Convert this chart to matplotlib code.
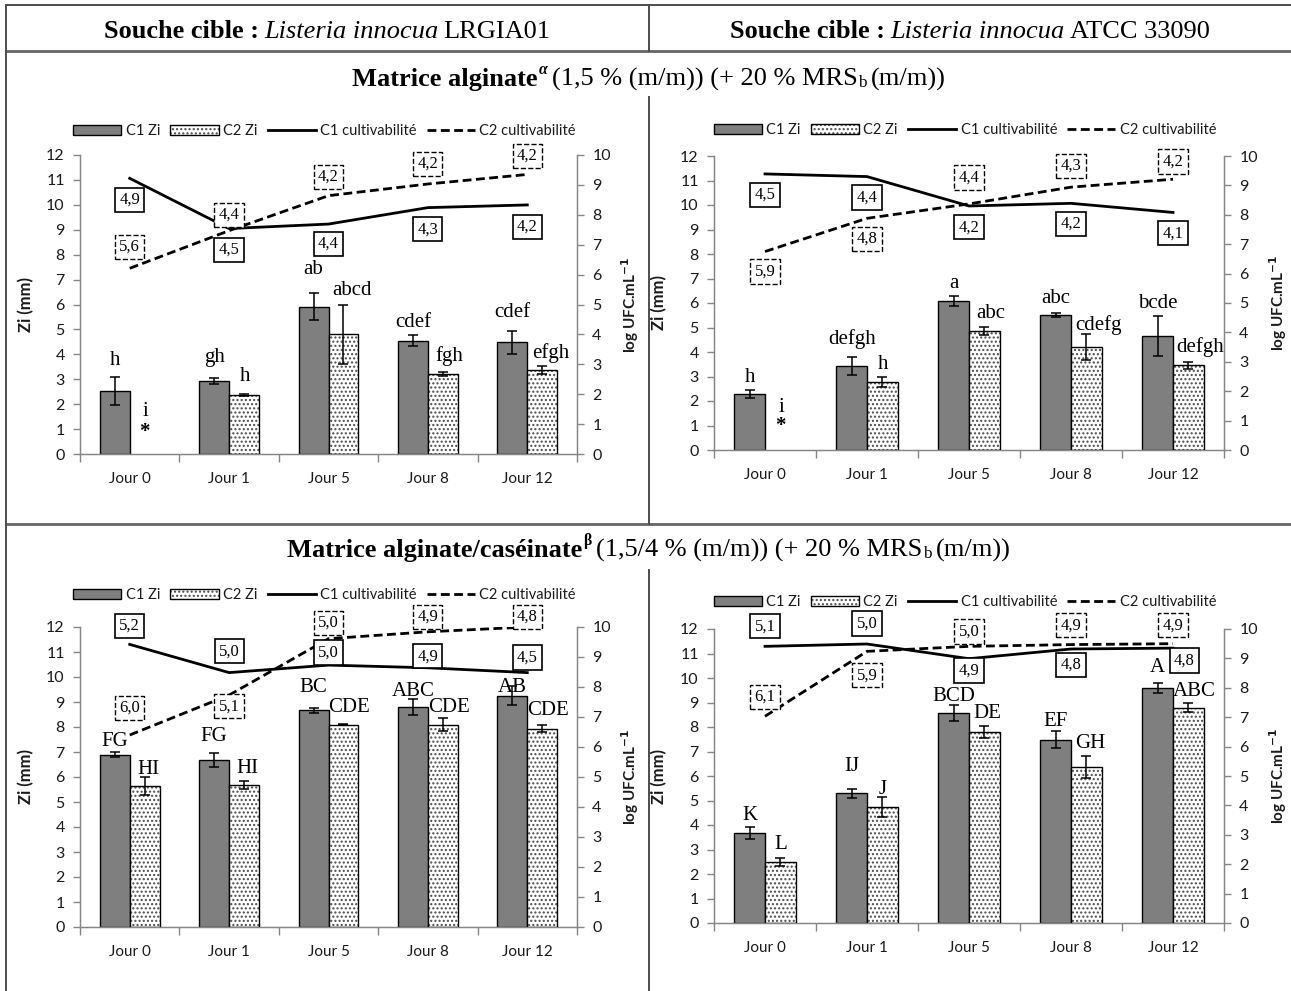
import numpy as np
import matplotlib
matplotlib.use("Agg")
import matplotlib.pyplot as plt
from matplotlib.lines import Line2D
from matplotlib.patches import Patch

W, H = 1291, 991

# ---------------- data ----------------
days = ['Jour 0', 'Jour 1', 'Jour 5', 'Jour 8', 'Jour 12']

# Panel A: alginate, LRGIA01
a_c1_zi = [2.53, 2.94, 5.91, 4.54, 4.48]
a_c1_err = [0.55, 0.13, 0.55, 0.22, 0.47]
a_c2_zi = [np.nan, 2.37, 4.80, 3.21, 3.37]
a_c2_err = [0, 0.05, 1.17, 0.07, 0.17]
a_c1_cult = [9.22, 7.54, 7.69, 8.24, 8.33]
a_c2_cult = [6.21, 7.47, 8.64, 9.03, 9.35]
a_c1_box = ['4,9', '4,5', '4,4', '4,3', '4,2']
a_c2_box = ['5,6', '4,4', '4,2', '4,2', '4,2']
a_c1_let = ['h', 'gh', 'ab', 'cdef', 'cdef']
a_c2_let = ['i', 'h', 'abcd', 'fgh', 'efgh']

# Panel B: alginate, ATCC 33090
b_c1_zi = [2.28, 3.42, 6.08, 5.50, 4.64]
b_c1_err = [0.17, 0.36, 0.19, 0.09, 0.81]
b_c2_zi = [np.nan, 2.77, 4.87, 4.21, 3.46]
b_c2_err = [0, 0.20, 0.17, 0.52, 0.14]
b_c1_cult = [9.39, 9.30, 8.30, 8.39, 8.08]
b_c2_cult = [6.75, 7.88, 8.37, 8.94, 9.21]
b_c1_box = ['4,5', '4,4', '4,2', '4,2', '4,1']
b_c2_box = ['5,9', '4,8', '4,4', '4,3', '4,2']
b_c1_let = ['h', 'defgh', 'a', 'abc', 'bcde']
b_c2_let = ['i', 'h', 'abc', 'cdefg', 'defgh']

# Panel C: alginate/caseinate, LRGIA01
c_c1_zi = [6.90, 6.68, 8.67, 8.79, 9.26]
c_c1_err = [0.11, 0.27, 0.11, 0.32, 0.37]
c_c2_zi = [5.64, 5.69, 8.10, 8.10, 7.94]
c_c2_err = [0.35, 0.15, 0.03, 0.27, 0.13]
c_c1_cult = [9.42, 8.48, 8.73, 8.64, 8.48]
c_c2_cult = [6.40, 7.73, 9.61, 9.84, 10.0]
c_c1_box = ['5,2', '5,0', '5,0', '4,9', '4,5']
c_c2_box = ['6,0', '5,1', '5,0', '4,9', '4,8']
c_c1_let = ['FG', 'FG', 'BC', 'ABC', 'AB']
c_c2_let = ['HI', 'HI', 'CDE', 'CDE', 'CDE']

# Panel D: alginate/caseinate, ATCC 33090
d_c1_zi = [3.67, 5.29, 8.57, 7.48, 9.59]
d_c1_err = [0.23, 0.18, 0.32, 0.35, 0.20]
d_c2_zi = [2.49, 4.75, 7.81, 6.37, 8.79]
d_c2_err = [0.18, 0.41, 0.24, 0.46, 0.17]
d_c1_cult = [9.41, 9.49, 8.99, 9.32, 9.35]
d_c2_cult = [7.03, 9.24, 9.41, 9.47, 9.50]
d_c1_box = ['5,1', '5,0', '4,9', '4,8', '4,8']
d_c2_box = ['6,1', '5,9', '5,0', '4,9', '4,9']
d_c1_let = ['K', 'IJ', 'BCD', 'EF', 'A']
d_c2_let = ['L', 'J', 'DE', 'GH', 'ABC']

# ---------------- annotation layout (positions, in Zi axis units) ----------------
layout = {
    'a': dict(ax=(80, 155, 577, 454), leg_y=131,
              c1_box_y=[10.2, 8.19, 8.43, 9.02, 9.12], c1_box_dx=[0, 0, 0, 0, 0],
              c2_box_y=[8.32, 9.59, 11.13, 11.64, 11.97],
              c1_let_y=[3.77, 3.87, 7.42, 5.28, 5.66],
              c2_let_y=[1.70, 3.10, 6.58, 3.95, 4.04], star_y=0.9),
    'b': dict(ax=(714, 156, 1224, 450), leg_y=130,
              c1_box_y=[10.41, 10.30, 9.09, 9.23, 8.85], c1_box_dx=[0, 0, 0, 0, 0],
              c2_box_y=[7.29, 8.61, 11.12, 11.59, 11.77],
              c1_let_y=[2.95, 4.53, 6.79, 6.20, 6.0],
              c2_let_y=[1.75, 3.49, 5.57, 5.12, 4.21], star_y=0.98),
    'c': dict(ax=(80, 627, 577, 927), leg_y=595,
              c1_box_y=[12.04, 11.03, 10.98, 10.83, 10.78], c1_box_dx=[0, 0, 0, 0, 0],
              c2_box_y=[8.77, 8.83, 12.17, 12.40, 12.40],
              c1_let_y=[7.44, 7.61, 9.6, 9.44, 9.6],
              c2_let_y=[6.28, 6.35, 8.77, 8.77, 8.67], star_y=None),
    'd': dict(ax=(714, 629, 1224, 923), leg_y=602,
              c1_box_y=[12.11, 12.22, 10.3, 10.54, 10.72], c1_box_dx=[0, 0, 0, 0, 0.11],
              c2_box_y=[9.22, 10.11, 11.9, 12.15, 12.15],
              c1_let_y=[4.38, 6.39, 9.25, 8.23, 10.41],
              c2_let_y=[3.2, 5.44, 8.54, 7.31, 9.46], star_y=None),
}

panels = {
    'a': (a_c1_zi, a_c1_err, a_c2_zi, a_c2_err, a_c1_cult, a_c2_cult, a_c1_box, a_c2_box, a_c1_let, a_c2_let),
    'b': (b_c1_zi, b_c1_err, b_c2_zi, b_c2_err, b_c1_cult, b_c2_cult, b_c1_box, b_c2_box, b_c1_let, b_c2_let),
    'c': (c_c1_zi, c_c1_err, c_c2_zi, c_c2_err, c_c1_cult, c_c2_cult, c_c1_box, c_c2_box, c_c1_let, c_c2_let),
    'd': (d_c1_zi, d_c1_err, d_c2_zi, d_c2_err, d_c1_cult, d_c2_cult, d_c1_box, d_c2_box, d_c1_let, d_c2_let),
}

SANS = ['Lato', 'DejaVu Sans']
SERIF = ['Liberation Serif', 'DejaVu Serif']
AXCOL = '#868686'
TXTCOL = '#1a1a1a'
HATCH = '....'
HATCHCOL = '#4a4a4a'
plt.rcParams['hatch.linewidth'] = 1.0

fig = plt.figure(figsize=(W / 100, H / 100), dpi=100)


def fx(px):
    return px / W


def fy(py):
    return 1 - py / H


# ---------------- table frame ----------------
def hline(y, x0, x1, lw=1.4, col='#4d4d4d'):
    fig.add_artist(Line2D([fx(x0), fx(x1)], [fy(y), fy(y)], lw=lw, color=col))


def vline(x, y0, y1, lw=1.4, col='#4d4d4d'):
    fig.add_artist(Line2D([fx(x), fx(x)], [fy(y0), fy(y1)], lw=lw, color=col))


hline(5, 6, 1291)
hline(51, 6, 1291, lw=2.0, col='#666666')
hline(524, 6, 1291, lw=2.0, col='#666666')
vline(6, 5, 991)
vline(649, 5, 51)
vline(649, 97, 524)
vline(649, 570, 991)

# ---------------- rich text helper ----------------
renderer = fig.canvas.get_renderer()


def text_width(s, **kw):
    t = fig.text(0, 0, s, **kw)
    w = t.get_window_extent(renderer).width
    t.remove()
    return w


def rich(xc, yc, runs, size):
    # runs: (text, weight, style, scale, dy_px, gap_after_px)
    widths = []
    for txt, wt, st, sc, dy, gap in runs:
        widths.append(text_width(txt, family=SERIF, weight=wt, style=st, size=size * sc))
    total = sum(widths) + sum(r[5] for r in runs)
    x = xc - total / 2
    for (txt, wt, st, sc, dy, gap), w in zip(runs, widths):
        fig.text(fx(x), fy(yc - dy), txt, family=SERIF, weight=wt, style=st,
                 size=size * sc, ha='left', va='center_baseline', color='black')
        x += w + gap


HS = 19.0
sp = 5.0
rich(327, 29, [('Souche cible :', 'bold', 'normal', 1, 0, sp),
               ('Listeria innocua', 'normal', 'italic', 1, 0, sp),
               ('LRGIA01', 'normal', 'normal', 1, 0, 0)], HS)
rich(970, 29, [('Souche cible :', 'bold', 'normal', 1, 0, sp),
               ('Listeria innocua', 'normal', 'italic', 1, 0, sp),
               ('ATCC 33090', 'normal', 'normal', 1, 0, 0)], HS)
rich(649, 77, [('Matrice alginate', 'bold', 'normal', 1, 0, 1),
               ('α', 'bold', 'italic', 0.6, 9, sp),
               ('(1,5 % (m/m)) (+ 20 % MRS', 'normal', 'normal', 1, 0, 0),
               ('b', 'normal', 'normal', 0.65, -4, sp),
               ('(m/m))', 'normal', 'normal', 1, 0, 0)], HS)
rich(649, 548, [('Matrice alginate/caséinate', 'bold', 'normal', 1, 0, 1),
                ('β', 'bold', 'normal', 0.6, 9, sp),
                ('(1,5/4 % (m/m)) (+ 20 % MRS', 'normal', 'normal', 1, 0, 0),
                ('b', 'normal', 'normal', 0.65, -4, sp),
                ('(m/m))', 'normal', 'normal', 1, 0, 0)], HS)

# ---------------- panels ----------------
x = np.arange(len(days))
bw = 0.30

for key in ['a', 'b', 'c', 'd']:
    c1, e1, c2, e2, l1, l2, b1, b2, t1, t2 = panels[key]
    L = layout[key]
    x0, y0, x1, y1 = L['ax']
    ax = fig.add_axes([fx(x0), fy(y1), (x1 - x0) / W, (y1 - y0) / H])
    ax2 = ax.twinx()

    # bars
    ax.bar(x - bw / 2, c1, bw, color='#7f7f7f', edgecolor='black', lw=1.0, zorder=2)
    c2v = np.array(c2, dtype=float)
    ax.bar(x + bw / 2, c2v, bw, color='white', edgecolor=HATCHCOL, lw=0, hatch=HATCH, zorder=2)
    ax.bar(x + bw / 2, c2v, bw, color='none', edgecolor='black', lw=1.0, zorder=3)
    ax.errorbar(x - bw / 2, c1, yerr=e1, fmt='none', ecolor='black', elinewidth=1.1,
                capsize=3.5, capthick=1.1, zorder=4)
    m = ~np.isnan(c2v)
    ax.errorbar((x + bw / 2)[m], c2v[m], yerr=np.array(e2)[m], fmt='none', ecolor='black',
                elinewidth=1.1, capsize=3.5, capthick=1.1, zorder=4)

    ax.set_xlim(-0.5, len(days) - 0.5)
    ax.set_ylim(0, 12)
    ax.set_yticks(range(0, 13))
    ax.set_xticks(np.arange(-0.5, len(days)), [''] * (len(days) + 1))
    ax.set_xticks(x, days, minor=True)
    ax.tick_params(axis='x', which='major', length=6, color=AXCOL, width=1)
    ax.tick_params(axis='x', which='minor', length=0, pad=13, labelsize=11, labelcolor=TXTCOL)
    ax.tick_params(axis='y', length=5, color=AXCOL, width=1, labelsize=11.5,
                   labelcolor=TXTCOL, pad=6)
    for lab in ax.get_xticklabels(minor=True) + ax.get_yticklabels():
        lab.set_family(SANS)
    ax.spines['top'].set_visible(False)
    for s in ['left', 'bottom', 'right']:
        ax.spines[s].set_color(AXCOL)
        ax.spines[s].set_linewidth(1.0)
    ax.set_ylabel('Zi (mm)', family=SANS, weight='bold', size=12, color=TXTCOL)
    ax.yaxis.set_label_coords(-0.092, 0.5)

    # lines
    ax2.plot(x, l1, color='black', lw=2.0, solid_joinstyle='round', zorder=3)
    ax2.plot(x, l2, color='black', lw=2.0, ls=(0, (3.2, 1.6)), zorder=3)
    ax2.set_ylim(0, 10)
    ax2.set_yticks(range(0, 11))
    ax2.tick_params(axis='y', length=5, color=AXCOL, width=1, labelsize=11.5,
                    labelcolor=TXTCOL, pad=6)
    for lab in ax2.get_yticklabels():
        lab.set_family(SANS)
    ax2.spines['top'].set_visible(False)
    for s in ['left', 'bottom', 'right']:
        ax2.spines[s].set_color(AXCOL)
    ax2.set_ylabel(r'log UFC.mL$^{\mathbf{-1}}$', family=SANS, weight='bold', size=11,
                   color=TXTCOL)
    ax2.yaxis.set_label_coords(1.085, 0.5)

    # boxed values
    for i in range(len(days)):
        ax2.text(x[i] + L['c1_box_dx'][i], L['c1_box_y'][i], b1[i], transform=ax.transData,
                 ha='center', va='center', family=SERIF, size=12, clip_on=False, zorder=6,
                 bbox=dict(boxstyle='square,pad=0.25', fc='white', ec='black', lw=1.2))
        ax2.text(x[i], L['c2_box_y'][i], b2[i], transform=ax.transData,
                 ha='center', va='center', family=SERIF, size=12, clip_on=False, zorder=6,
                 bbox=dict(boxstyle='square,pad=0.25', fc='white', ec='black', lw=1.0, ls='--'))
        # letters
        ax2.text(x[i] - 0.15, L['c1_let_y'][i], t1[i], transform=ax.transData,
                 ha='center', va='center', family=SERIF, size=15, zorder=5, clip_on=False)
        ax2.text(x[i] + 0.13 + 0.027 * len(t2[i]), L['c2_let_y'][i], t2[i],
                 transform=ax.transData, ha='center', va='center', family=SERIF, size=15,
                 zorder=5, clip_on=False)
    if L['star_y'] is not None:
        ax2.text(x[0] + 0.15, L['star_y'], '*', transform=ax.transData, ha='center',
                 va='center', family=SERIF, weight='bold', size=15, zorder=5)

    # legend
    h_c1 = Patch(facecolor='#7f7f7f', edgecolor='black', lw=1.0)
    h_c2 = (Patch(facecolor='white', edgecolor=HATCHCOL, hatch=HATCH, lw=0),
            Patch(facecolor='none', edgecolor='black', lw=1.0))
    h_l1 = Line2D([], [], color='black', lw=2.0)
    h_l2 = Line2D([], [], color='black', lw=2.0, ls=(0, (3.2, 1.6)))
    leg = fig.legend([h_c1, h_c2, h_l1, h_l2],
                     ['C1 Zi', 'C2 Zi', 'C1 cultivabilité', 'C2 cultivabilité'],
                     loc='center', bbox_to_anchor=(fx((x0 + x1) / 2 - 4), fy(L['leg_y'])),
                     ncol=4, frameon=False, handlelength=3.3, handleheight=0.75,
                     handletextpad=0.3, columnspacing=0.7, borderpad=0,
                     prop=dict(family=SANS, size=10.5))
    for t in leg.get_texts():
        t.set_color(TXTCOL)

fig.savefig('out.png', dpi=100)
